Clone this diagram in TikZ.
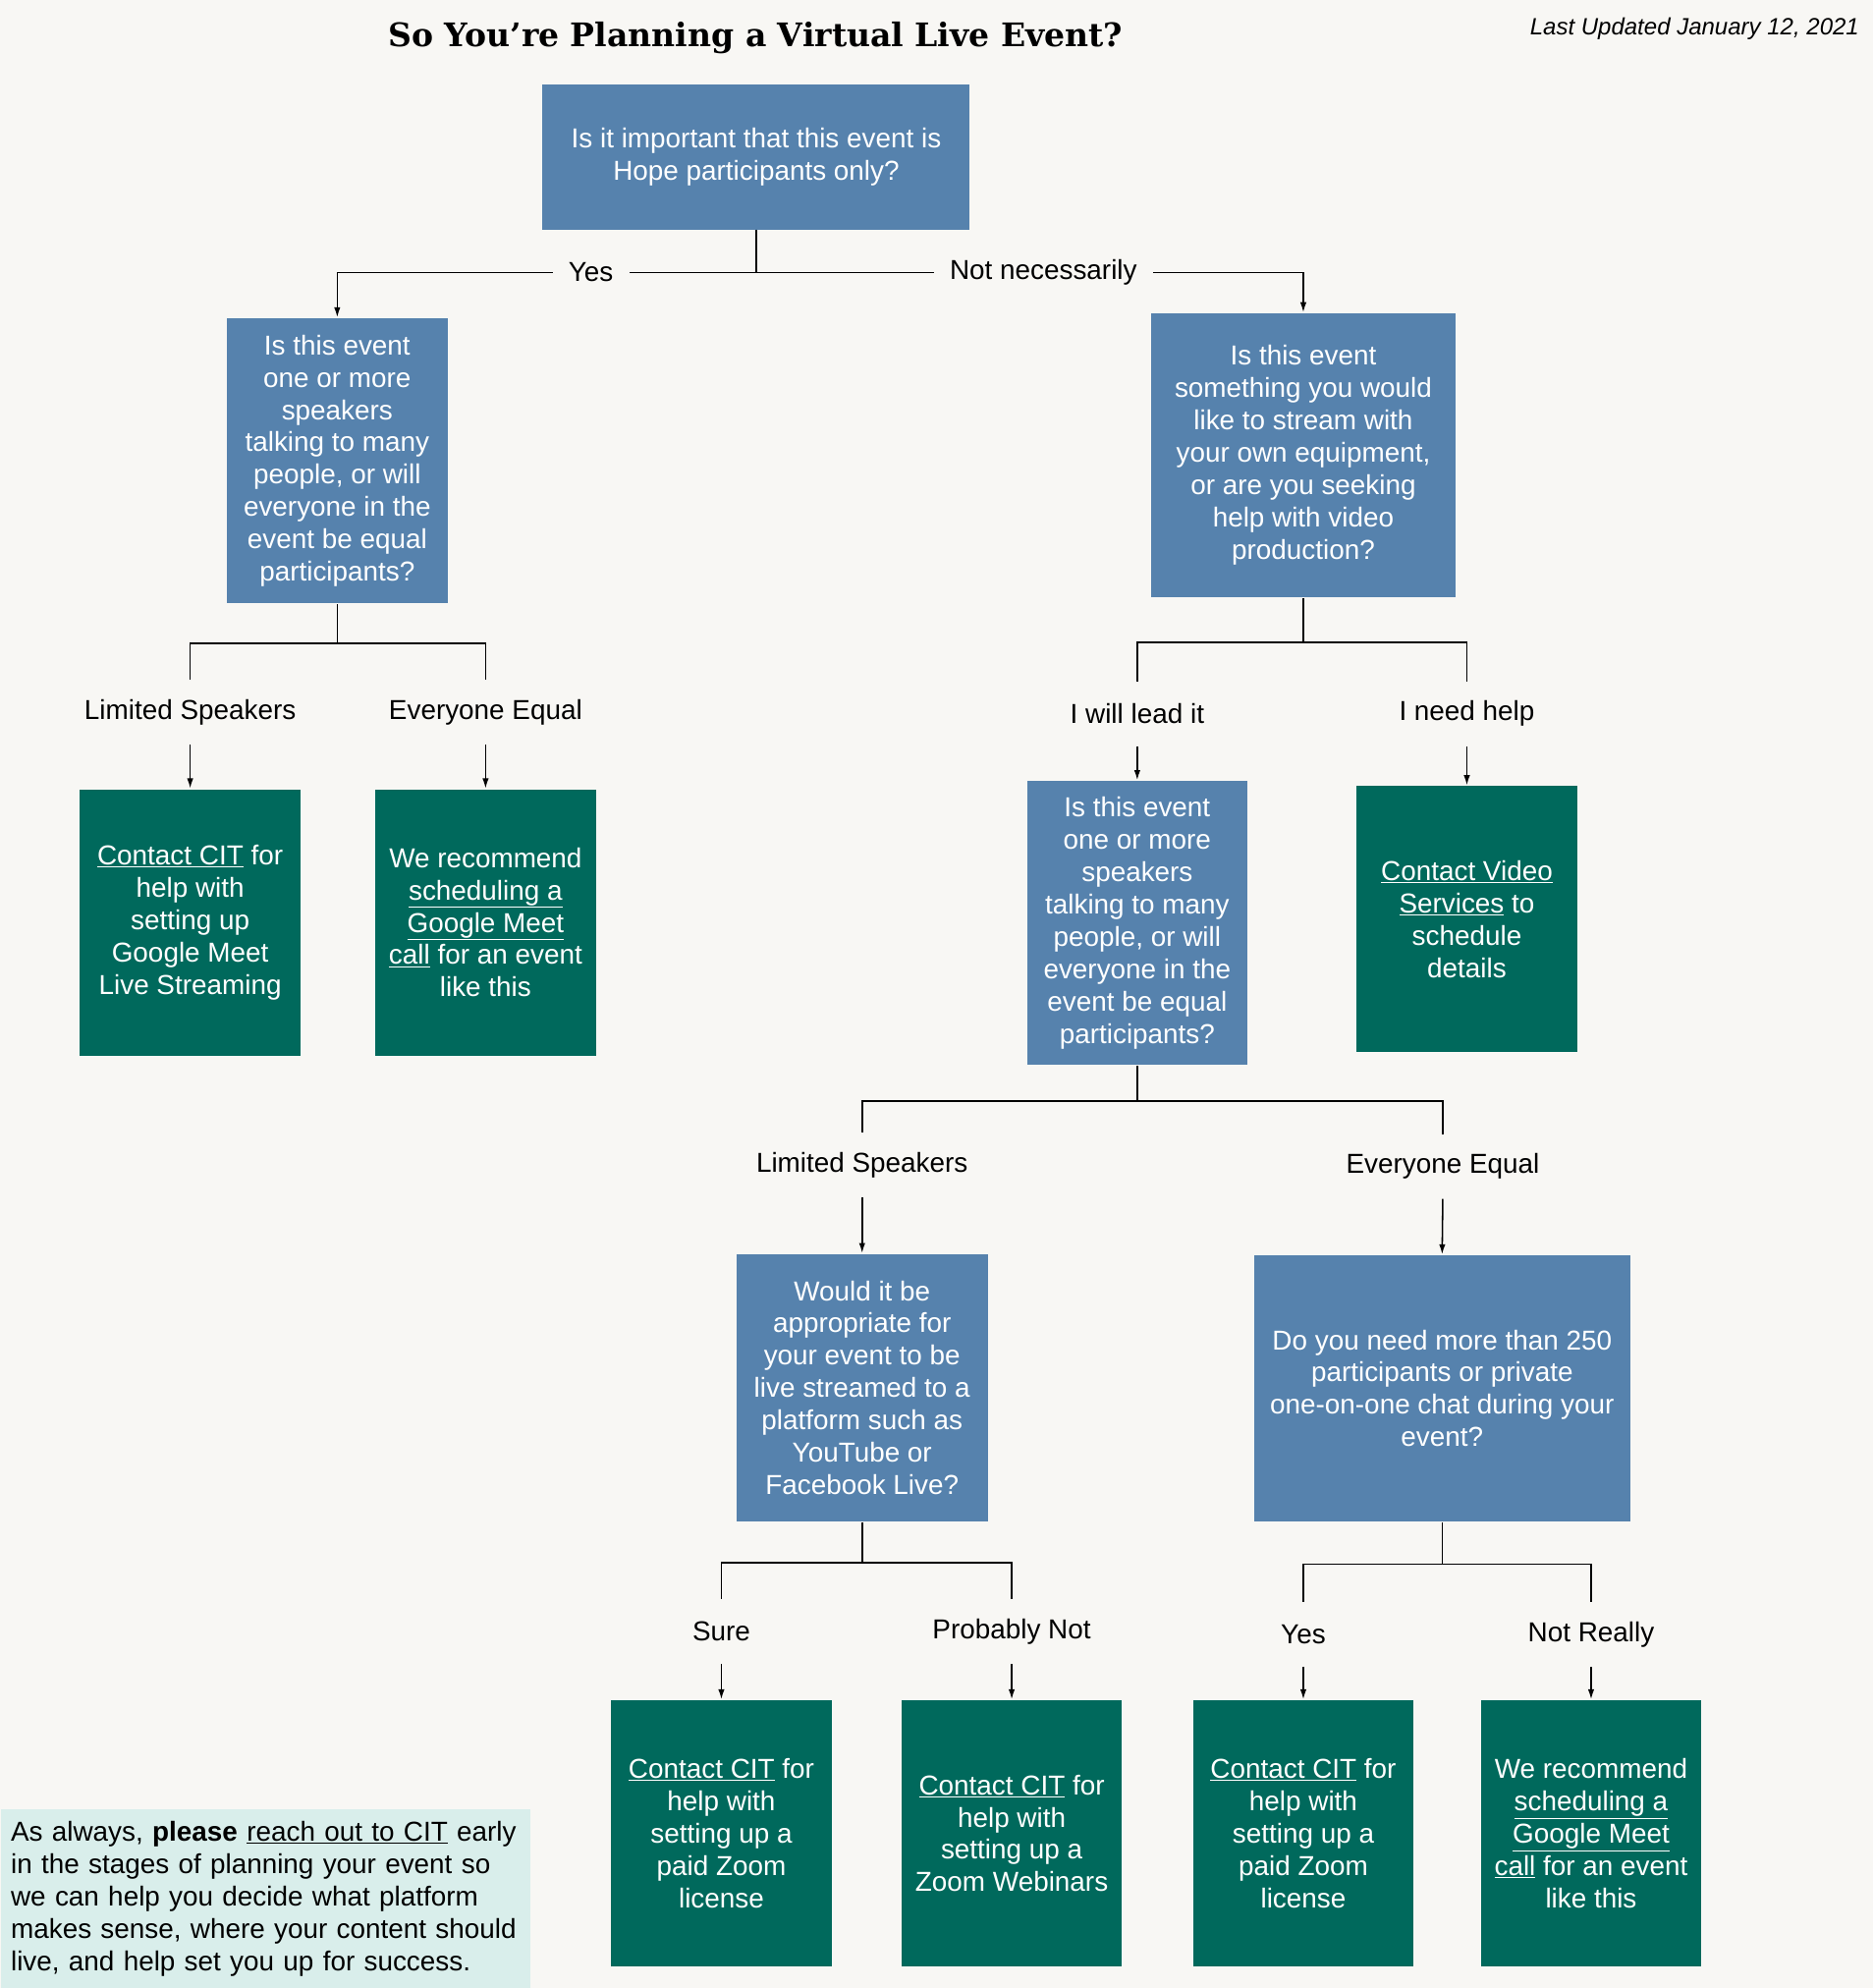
\documentclass[tikz,border=0pt]{standalone}
\usepackage{fontspec}
\setmainfont{Liberation Sans}
\newfontfamily\headfont{DejaVu Serif}
\usetikzlibrary{arrows.meta}
\definecolor{paper}{HTML}{F8F7F4}
\definecolor{qblue}{HTML}{5682AD}
\definecolor{agreen}{HTML}{00695C}
\definecolor{notebg}{HTML}{D9EEEB}
\tikzset{
    qbox/.style={fill=qblue, text=white, align=center, inner sep=4pt,
        font=\fontsize{21.6}{25.5}\selectfont},
    abox/.style={qbox, fill=agreen, minimum width=174pt, minimum height=210pt},
    lbl/.style={inner sep=0pt, minimum height=50pt, font=\fontsize{21.6}{25.5}\selectfont},
    arr/.style={-{Latex[length=8pt,width=5pt]}}
}

\begin{document}
\begin{tikzpicture}[x=1pt, y=-1pt, line width=1.2pt]
    \fill[paper] (0,0) rectangle (1477,1568);
    \useasboundingbox (0,0) rectangle (1477,1568);
    % heading
    \node[font=\headfont\bfseries\fontsize{25.6}{30}\selectfont] (title) at (596,30) {So You’re Planning a Virtual Live Event?};
    \node[anchor=east, inner sep=0pt, font=\itshape\fontsize{18.6}{22}\selectfont] (date) at (1467,23) {Last Updated January 12, 2021};
    % questions
    \node[qbox, minimum width=337pt, minimum height=114pt] (q1) at (596.5,124) {Is it important that this event is\\Hope participants only?};
    \node[qbox, minimum width=174pt, minimum height=225pt] (q2) at (266,363.5) {Is this event\\one or more\\speakers\\talking to many\\people, or will\\everyone in the\\event be equal\\participants?};
    \node[qbox, minimum width=240pt, minimum height=224pt] (q3) at (1028,359) {Is this event\\something you would\\like to stream with\\your own equipment,\\or are you seeking\\help with video\\production?};
    \node[qbox, minimum width=174pt, minimum height=224pt] (q4) at (897,728) {Is this event\\one or more\\speakers\\talking to many\\people, or will\\everyone in the\\event be equal\\participants?};
    \node[qbox, minimum width=198pt, minimum height=211pt] (q5) at (680,1094.5) {Would it be\\appropriate for\\your event to be\\live streamed to a\\platform such as\\YouTube or\\Facebook Live?};
    \node[qbox, minimum width=297pt, minimum height=210pt] (q6) at (1137.5,1095) {Do you need more than 250\\participants or private\\one-on-one chat during your\\event?};
    % answers
    \node[abox] (a1) at (150,727.5) {\underline{Contact CIT} for\\help with\\setting up\\Google Meet\\Live Streaming};
    \node[abox] (a2) at (383,727.5) {We recommend\\\underline{scheduling a}\\\underline{Google Meet}\\\underline{call} for an event\\like this};
    \node[abox] (a3) at (1157,725) {\underline{Contact Video}\\\underline{Services} to\\schedule\\details};
    \node[abox] (b1) at (569,1446) {\underline{Contact CIT} for\\help with\\setting up a\\paid Zoom\\license};
    \node[abox] (b2) at (798,1446) {\underline{Contact CIT} for\\help with\\setting up a\\Zoom Webinars};
    \node[abox] (b3) at (1028,1446) {\underline{Contact CIT} for\\help with\\setting up a\\paid Zoom\\license};
    \node[abox] (b4) at (1255,1446) {We recommend\\\underline{scheduling a}\\\underline{Google Meet}\\\underline{call} for an event\\like this};
    % choice labels
    \node[lbl, inner xsep=12pt] (yes1) at (466,215) {Yes};
    \node[lbl, inner xsep=12pt] (nn1) at (823,215) {Not necessarily};
    \node[lbl] (ls1) at (150,562) {Limited Speakers};
    \node[lbl] (ee1) at (383,562) {Everyone Equal};
    \node[lbl] (lead) at (897,563) {I will lead it};
    \node[lbl] (help) at (1157,563) {I need help};
    \node[lbl] (ls2) at (680,919) {Limited Speakers};
    \node[lbl] (ee2) at (1138,920) {Everyone Equal};
    \node[lbl] (sure) at (569,1287) {Sure};
    \node[lbl] (pnot) at (798,1287) {Probably Not};
    \node[lbl] (yes2) at (1028,1289) {Yes};
    \node[lbl] (nreal) at (1255,1289) {Not Really};
    % connectors
    \draw (q1.south) |- (yes1.east);
    \draw (q1.south) |- (nn1.west);
    \draw[arr] (yes1.west) -| (q2.north);
    \draw[arr] (nn1.east) -| (q3.north);
    \draw (q2.south) -- ++(0,31) -| (ee1.north);
    \draw (q2.south) ++(0,31) -| (ls1.north);
    \draw[arr] (ls1.south) -- (a1.north);
    \draw[arr] (ee1.south) -- (a2.north);
    \draw (q3.south) -- ++(0,35) -| (help.north);
    \draw (q3.south) ++(0,35) -| (lead.north);
    \draw[arr] (lead.south) -- (q4.north);
    \draw[arr] (help.south) -- (a3.north);
    \draw (q4.south) -- ++(0,28) -| (ee2.north);
    \draw (q4.south) ++(0,28) -| (ls2.north);
    \draw[arr] (ls2.south) -- (q5.north);
    \draw[arr] (ee2.south) -- (q6.north);
    \draw (q5.south) -- ++(0,32) -| (pnot.north);
    \draw (q5.south) ++(0,32) -| (sure.north);
    \draw[arr] (sure.south) -- (b1.north);
    \draw[arr] (pnot.south) -- (b2.north);
    \draw (q6.south) -- ++(0,33) -| (nreal.north);
    \draw (q6.south) ++(0,33) -| (yes2.north);
    \draw[arr] (yes2.south) -- (b3.north);
    \draw[arr] (nreal.south) -- (b4.north);
    % footnote
    \node[fill=notebg, anchor=north west, text width=402pt, inner xsep=8pt, minimum height=142pt, align=left,
        font=\fontsize{21.6}{25.5}\selectfont] (note) at (0,1426) {As always, \textbf{please} \underline{reach out to CIT} early\\in the stages of planning your event so\\we can help you decide what platform\\makes sense, where your content should\\live, and help set you up for success.};
\end{tikzpicture}
\end{document}
